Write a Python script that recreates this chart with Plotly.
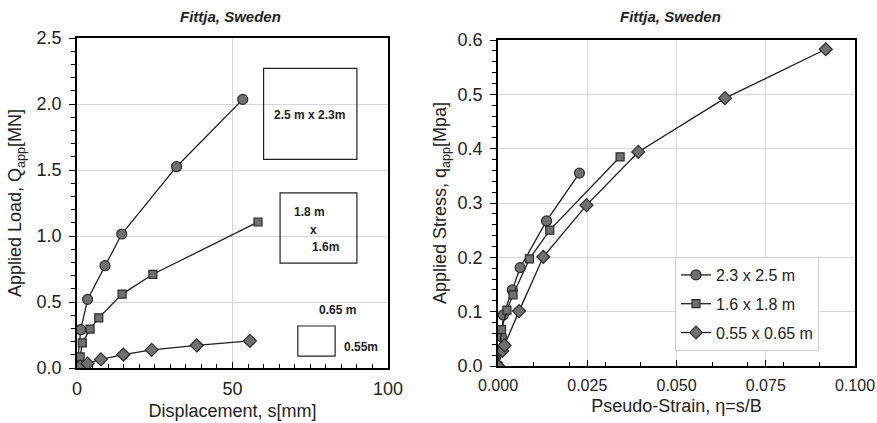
import plotly.graph_objects as go

# ---- data: left panel (load vs displacement) ----
disp_large = [0, 1.2, 3.4, 9.0, 14.4, 32.0, 53.3]
load_large = [0, 0.29, 0.52, 0.775, 1.015, 1.525, 2.035]
disp_mid = [0, 1.0, 1.7, 4.2, 7.0, 14.5, 24.4, 58.2]
load_mid = [0, 0.085, 0.19, 0.295, 0.38, 0.56, 0.71, 1.106]
disp_small = [0, 1.0, 3.4, 7.7, 14.9, 24.0, 38.5, 55.6]
load_small = [0, 0.012, 0.033, 0.065, 0.102, 0.137, 0.172, 0.205]

# ---- data: right panel (stress vs pseudo-strain) ----
strain_large = [0, 0.001, 0.0015, 0.004, 0.0062, 0.0136, 0.0228]
stress_large = [0, 0.054, 0.094, 0.14, 0.181, 0.267, 0.355]
strain_mid = [0, 0.0005, 0.001, 0.0025, 0.0042, 0.0088, 0.0145, 0.0342]
stress_mid = [0, 0.03, 0.067, 0.103, 0.131, 0.197, 0.25, 0.385]
strain_small = [0, 0.0012, 0.0018, 0.0059, 0.0127, 0.0248, 0.0393, 0.0636, 0.0918]
stress_small = [0, 0.028, 0.038, 0.101, 0.201, 0.296, 0.394, 0.493, 0.583]

legend_names = ["2.3 x 2.5 m", "1.6 x 1.8 m", "0.55 x 0.65 m"]
symbols = ["circle", "square", "diamond"]
sizes = [10, 8, 10]

FILL = "#707070"
EDGE = "#2b2b2b"
LINE = "#1e1e1e"
GRID = "#d6d6d6"
FONT = "Liberation Sans, Arial, sans-serif"

fig = go.Figure()

left = [(disp_large, load_large), (disp_mid, load_mid), (disp_small, load_small)]
right = [(strain_large, stress_large), (strain_mid, stress_mid), (strain_small, stress_small)]

for i, (x, y) in enumerate(left):
    fig.add_trace(go.Scatter(
        x=x, y=y, mode="lines+markers", xaxis="x", yaxis="y", showlegend=False,
        line=dict(color=LINE, width=1.3),
        marker=dict(symbol=symbols[i], size=sizes[i], color=FILL, line=dict(color=EDGE, width=1.2)),
    ))
for i, (x, y) in enumerate(right):
    fig.add_trace(go.Scatter(
        x=x, y=y, mode="lines+markers", xaxis="x2", yaxis="y2", name=legend_names[i],
        legendgroup="g%d" % i,
        line=dict(color=LINE, width=1.3),
        marker=dict(symbol=symbols[i], size=sizes[i], color=FILL, line=dict(color=EDGE, width=1.2)),
    ))

W, H = 877, 423
def px(v):
    return v / W
def py(v):
    return 1 - v / H

common = dict(showline=True, linecolor="black", linewidth=1.5, mirror=True,
              gridcolor=GRID, gridwidth=1, zeroline=False, color="#222",
              tickcolor="black", ticklabelstandoff=4, automargin=False)

fig.update_layout(
    width=W, height=H,
    margin=dict(l=0, r=0, t=0, b=0),
    paper_bgcolor="white", plot_bgcolor="white",
    font=dict(family=FONT, color="#222"),
    xaxis=dict(domain=[px(77), px(388)], range=[0, 100], dtick=50, tickformat="d",
               ticks="inside", ticklen=6, tickfont=dict(size=18),
               minor=dict(dtick=5, ticks="inside", ticklen=4, tickcolor="black", showgrid=False),
               title=dict(text="Displacement, s[mm]", font=dict(size=18), standoff=6),
               anchor="y", **common),
    yaxis=dict(domain=[py(368), py(38)], range=[0, 2.5], dtick=0.5, tickformat=".1f",
               ticks="outside", ticklen=6, tickfont=dict(size=18),
               minor=dict(dtick=0.1, ticks="outside", ticklen=4, tickcolor="black", showgrid=False),
               title=dict(text="Applied Load, Q<sub>app</sub>[MN]", font=dict(size=18), standoff=10),
               anchor="x", **common),
    xaxis2=dict(domain=[px(498), px(855)], range=[0, 0.1], dtick=0.025, tickformat=".3f",
                ticks="inside", ticklen=6, tickfont=dict(size=16),
                minor=dict(dtick=0.01, ticks="inside", ticklen=4, tickcolor="black", showgrid=False),
                title=dict(text="Pseudo-Strain, η=s/B", font=dict(size=18), standoff=6),
                anchor="y2", **common),
    yaxis2=dict(domain=[py(366), py(40)], range=[0, 0.6], dtick=0.1, tickformat=".1f",
                ticks="outside", ticklen=6, tickfont=dict(size=18),
                minor=dict(dtick=0.02, ticks="outside", ticklen=4, tickcolor="black", showgrid=False),
                title=dict(text="Applied Stress, q<sub>app</sub>[Mpa]", font=dict(size=18), standoff=6),
                anchor="x2", **common),
    legend=dict(x=px(675), y=py(257), xanchor="left", yanchor="top", xref="paper", yref="paper",
                bgcolor="white", bordercolor="#cfcfcf", borderwidth=1,
                font=dict(size=16, color="#222"), itemwidth=30, tracegroupgap=5),
)

# titles
for cx in (px(230), px(670)):
    fig.add_annotation(x=cx, y=py(17), xref="paper", yref="paper", showarrow=False,
                       xanchor="center", yanchor="middle",
                       text="<b><i>Fittja, Sweden</i></b>", font=dict(size=15, color="#222"))

# footing size boxes in the left panel
boxes = [(60, 90, 1.58, 2.27), (65.3, 90, 0.795, 1.326), (71, 83, 0.09, 0.318)]
for x0, x1, y0, y1 in boxes:
    fig.add_shape(type="rect", xref="x", yref="y", x0=x0, x1=x1, y0=y0, y1=y1,
                  line=dict(color="#222", width=1.2), fillcolor="rgba(0,0,0,0)")

labels = [("2.5 m x 2.3m", 74.9, 1.917), ("1.8 m", 74.6, 1.18), ("x", 75.9, 1.045),
          ("1.6m", 80.0, 0.917), ("0.65 m", 83.9, 0.44), ("0.55m", 91.3, 0.161)]
for t, x, y in labels:
    fig.add_annotation(x=x, y=y, xref="x", yref="y", text="<b>" + t + "</b>", showarrow=False,
                       font=dict(size=12, color="#222"))

fig.write_html("out.html")
